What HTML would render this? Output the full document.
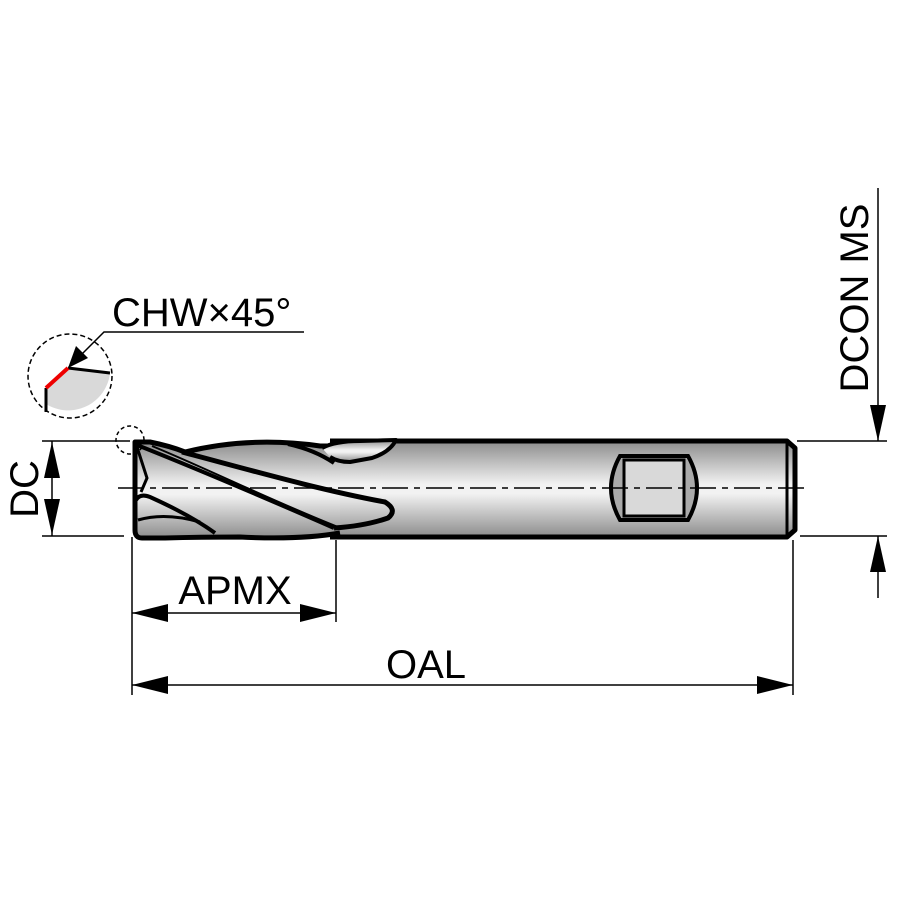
<!DOCTYPE html>
<html><head><style>html,body{margin:0;padding:0;background:#fff}svg{display:block}</style></head>
<body>
<svg width="900" height="900" viewBox="0 0 900 900" xmlns="http://www.w3.org/2000/svg" font-family="Liberation Sans, Arial, sans-serif">
<defs>
<linearGradient id="g" x1="0" y1="0" x2="0" y2="1">
<stop offset="0" stop-color="#8c8c8c"/><stop offset="0.45" stop-color="#f2f2f2"/><stop offset="0.55" stop-color="#f2f2f2"/><stop offset="1" stop-color="#8c8c8c"/>
</linearGradient>
</defs>
<!-- shank -->
<path d="M330 441 L787 441 L795 448 L795 530 L787 537 L330 537 Z" fill="url(#g)"/>
<path d="M330 441 L787 441 L795 448 L795 530 L787 537 L330 537" fill="none" stroke="#000" stroke-width="5" stroke-linejoin="round"/>
<line x1="787" y1="443" x2="787" y2="535" stroke="#000" stroke-width="3"/>
<!-- flat -->
<path d="M620 456 L688 456 Q706 488 688 520 L620 520 Q602 488 620 456 Z" fill="#aaa" stroke="#000" stroke-width="4"/>
<rect x="624" y="460" width="60" height="56" fill="#d9d9d9" stroke="#000" stroke-width="3"/>
<!-- cutting part body -->
<path d="M135 442 L150 442 Q170 446 185 452 Q250 436 320 446 L340 447 L340 531 Q300 540 240 537 Q200 537 165 538 L142 538 Q135 538 135 530 Z" fill="url(#g)"/>
<path d="M340 446 L320 446 Q250 436 185 452 Q170 446 150 442 L135 442 L135 530 Q135 538 142 538 L165 538 Q200 537 240 537 Q300 540 340 533" fill="none" stroke="#000" stroke-width="5" stroke-linejoin="round"/>
<!-- shank flute lobe -->
<path d="M322 448 Q335 441 360 441 L396 440 Q390 452 372 458 L350 462 Q338 462 330 457" fill="url(#g)" stroke="#000" stroke-width="4" stroke-linejoin="round"/>
<!-- main flute band -->
<path d="M182 452 C250 470 320 490 385 502 Q398 510 388 518 Q365 526 334 528" fill="none" stroke="#000" stroke-width="5" stroke-linejoin="round"/>
<path d="M137 445 C200 470 270 500 334 528" fill="none" stroke="#000" stroke-width="4"/>
<path d="M152 446 C210 470 270 500 338 527" fill="none" stroke="#000" stroke-width="2"/>
<!-- land edge -->
<path d="M288 444 Q315 450 334 463" fill="none" stroke="#000" stroke-width="4"/>
<!-- tip details -->
<path d="M137 447 L147 478 L141 492" fill="none" stroke="#000" stroke-width="3"/>
<path d="M136 500 Q140 493 150 497 Q190 515 215 533" fill="none" stroke="#000" stroke-width="4"/>
<path d="M138 520 Q165 512 200 522" fill="none" stroke="#000" stroke-width="3"/>
<!-- centerline -->
<line x1="118" y1="488" x2="806" y2="488" stroke="#000" stroke-width="1.5" stroke-dasharray="26,6,6,6"/>
<!-- small dashed circle -->
<circle cx="130" cy="440" r="14" fill="none" stroke="#000" stroke-width="1.5" stroke-dasharray="4,3"/>
<!-- detail circle -->
<path d="M46 388 L68 368 L110 373 A42 42 0 0 1 46 404 Z" fill="#d9d9d9"/>
<circle cx="70" cy="376" r="42" fill="none" stroke="#000" stroke-width="1.5" stroke-dasharray="5,3"/>
<line x1="46" y1="388" x2="46" y2="412" stroke="#000" stroke-width="3"/>
<line x1="68" y1="368" x2="110" y2="373" stroke="#000" stroke-width="3"/>
<line x1="46" y1="388" x2="68" y2="368" stroke="#e00" stroke-width="4"/>
<polyline points="304,332 104,332 80,356" fill="none" stroke="#000" stroke-width="1.5"/>
<polygon points="68,368 76,346 88,358" fill="#000"/>
<text x="112" y="326" font-size="40">CHW×45°</text>
<!-- DC -->
<line x1="42" y1="441" x2="130" y2="441" stroke="#000" stroke-width="1.5"/>
<line x1="42" y1="536" x2="124" y2="536" stroke="#000" stroke-width="1.5"/>
<line x1="52" y1="441" x2="52" y2="536" stroke="#000" stroke-width="1.5"/>
<polygon points="52,442 44,478 60,478" fill="#000"/>
<polygon points="52,535 44,499 60,499" fill="#000"/>
<text transform="translate(38,489) rotate(-90)" text-anchor="middle" font-size="40">DC</text>
<!-- DCON MS -->
<line x1="797" y1="441" x2="887" y2="441" stroke="#000" stroke-width="1.5"/>
<line x1="800" y1="536" x2="887" y2="536" stroke="#000" stroke-width="1.5"/>
<line x1="878" y1="188" x2="878" y2="441" stroke="#000" stroke-width="1.5"/>
<line x1="878" y1="536" x2="878" y2="598" stroke="#000" stroke-width="1.5"/>
<polygon points="878,441 870,405 886,405" fill="#000"/>
<polygon points="878,536 870,572 886,572" fill="#000"/>
<text transform="translate(868,298) rotate(-90)" text-anchor="middle" font-size="40">DCON MS</text>
<!-- APMX -->
<line x1="132" y1="537" x2="132" y2="695" stroke="#000" stroke-width="1.5"/>
<line x1="336" y1="540" x2="336" y2="622" stroke="#000" stroke-width="1.5"/>
<line x1="132" y1="613" x2="336" y2="613" stroke="#000" stroke-width="1.5"/>
<polygon points="132,613 168,604 168,622" fill="#000"/>
<polygon points="336,613 300,604 300,622" fill="#000"/>
<text x="235" y="604" text-anchor="middle" font-size="40">APMX</text>
<!-- OAL -->
<line x1="793" y1="540" x2="793" y2="695" stroke="#000" stroke-width="1.5"/>
<line x1="132" y1="685" x2="793" y2="685" stroke="#000" stroke-width="1.5"/>
<polygon points="132,685 168,676 168,694" fill="#000"/>
<polygon points="793,685 757,676 757,694" fill="#000"/>
<text x="426" y="678" text-anchor="middle" font-size="40">OAL</text>
</svg>
</body></html>
